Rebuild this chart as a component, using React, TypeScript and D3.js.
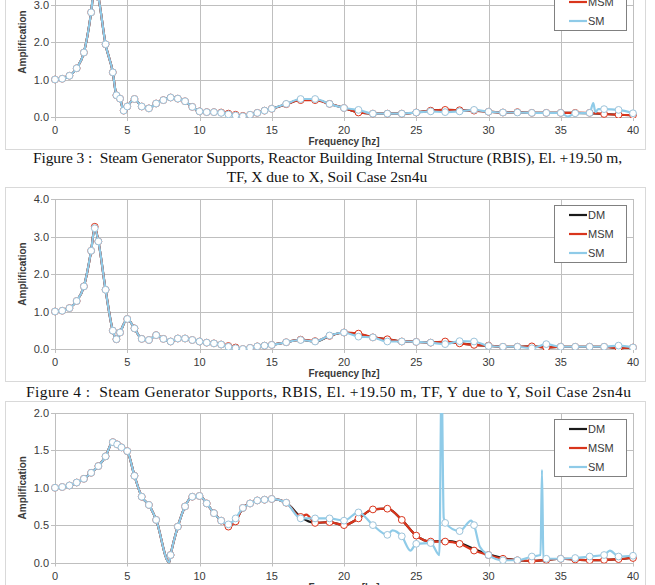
import * as d3 from 'd3';

// Figure 3 panel (X due to X), frequencies in Hz
const p1Freq = [0, 0.5, 1, 1.5, 2, 2.5, 2.75, 3, 3.5, 4, 4.25, 4.5, 4.75, 5, 5.5, 6, 6.5, 7, 7.5, 8, 8.5, 9, 9.5, 10, 10.5, 11, 11.5, 12, 12.5, 13, 13.5, 14, 14.5, 15, 16, 17, 18, 19, 20, 21, 22, 23, 24, 25, 26, 27, 28, 29, 30, 31, 32, 33, 34, 35, 36, 37, 38, 39, 40];
const p1DM = [1.0, 1.02, 1.1, 1.3, 1.72, 2.79, 3.55, 3.2, 1.94, 1.19, 0.58, 0.49, 0.17, 0.28, 0.48, 0.28, 0.23, 0.36, 0.45, 0.52, 0.49, 0.42, 0.27, 0.15, 0.13, 0.13, 0.11, 0.08, 0.05, 0.03, 0.06, 0.11, 0.17, 0.22, 0.34, 0.46, 0.46, 0.35, 0.24, 0.12, 0.09, 0.09, 0.09, 0.12, 0.17, 0.19, 0.18, 0.17, 0.14, 0.12, 0.13, 0.11, 0.11, 0.11, 0.11, 0.1, 0.08, 0.06, 0.05];
const p1MSM = [1.0, 1.02, 1.1, 1.3, 1.72, 2.79, 3.55, 3.2, 1.94, 1.19, 0.58, 0.49, 0.17, 0.28, 0.48, 0.28, 0.23, 0.36, 0.45, 0.52, 0.49, 0.42, 0.27, 0.15, 0.13, 0.13, 0.12, 0.09, 0.06, 0.03, 0.06, 0.11, 0.17, 0.22, 0.34, 0.45, 0.45, 0.35, 0.24, 0.12, 0.09, 0.09, 0.09, 0.12, 0.17, 0.19, 0.18, 0.17, 0.14, 0.12, 0.13, 0.11, 0.11, 0.11, 0.11, 0.11, 0.08, 0.06, 0.05];
const p1SM = [1.0, 1.02, 1.1, 1.3, 1.72, 2.79, 3.55, 3.2, 1.94, 1.19, 0.58, 0.49, 0.17, 0.28, 0.48, 0.28, 0.23, 0.36, 0.45, 0.52, 0.49, 0.42, 0.27, 0.15, 0.13, 0.13, 0.11, 0.07, 0.04, 0.02, 0.06, 0.11, 0.17, 0.22, 0.35, 0.48, 0.48, 0.35, 0.24, 0.19, 0.09, 0.09, 0.09, 0.12, 0.15, 0.13, 0.15, 0.19, 0.14, 0.12, 0.12, 0.11, 0.11, 0.11, 0.1, 0.11, 0.21, 0.19, 0.1];
const p1SmExtra = [[35.5, 0.01], [37.25, 0.37], [37.4, 0.13], [37.6, 0.21]];

// Figure 4 panel (Y due to Y)
const p2Freq = [0, 0.5, 1, 1.5, 2, 2.5, 2.75, 3, 3.5, 4, 4.25, 4.5, 5, 5.5, 6, 6.5, 7, 7.5, 8, 8.5, 9, 9.5, 10, 10.5, 11, 11.5, 12, 12.5, 13, 13.5, 14, 14.5, 15, 16, 17, 18, 19, 20, 21, 22, 23, 24, 25, 26, 27, 28, 29, 30, 31, 32, 33, 34, 35, 36, 37, 38, 39, 40];
const p2DM = [1.0, 1.02, 1.09, 1.28, 1.67, 2.62, 3.24, 2.87, 1.58, 0.49, 0.26, 0.44, 0.8, 0.55, 0.27, 0.24, 0.37, 0.27, 0.2, 0.28, 0.28, 0.24, 0.2, 0.17, 0.15, 0.12, 0.07, 0.03, 0.0, 0.03, 0.07, 0.09, 0.11, 0.18, 0.25, 0.2, 0.35, 0.44, 0.4, 0.31, 0.26, 0.2, 0.19, 0.17, 0.19, 0.15, 0.11, 0.09, 0.06, 0.06, 0.07, 0.04, 0.06, 0.06, 0.06, 0.06, 0.02, 0.04];
const p2MSM = [1.0, 1.02, 1.09, 1.28, 1.67, 2.62, 3.26, 2.87, 1.58, 0.49, 0.26, 0.44, 0.8, 0.55, 0.27, 0.24, 0.37, 0.27, 0.2, 0.28, 0.28, 0.24, 0.2, 0.17, 0.15, 0.12, 0.08, 0.04, 0.0, 0.03, 0.07, 0.09, 0.11, 0.18, 0.25, 0.21, 0.35, 0.44, 0.41, 0.31, 0.26, 0.2, 0.19, 0.17, 0.2, 0.15, 0.11, 0.09, 0.06, 0.06, 0.07, 0.04, 0.06, 0.06, 0.06, 0.06, 0.02, 0.04];
const p2SM = [1.0, 1.02, 1.09, 1.28, 1.67, 2.62, 3.22, 2.87, 1.58, 0.49, 0.26, 0.44, 0.8, 0.55, 0.27, 0.24, 0.37, 0.27, 0.2, 0.28, 0.28, 0.24, 0.2, 0.17, 0.15, 0.12, 0.06, 0.02, 0.0, 0.03, 0.07, 0.09, 0.11, 0.18, 0.24, 0.2, 0.36, 0.44, 0.33, 0.31, 0.2, 0.2, 0.19, 0.17, 0.13, 0.21, 0.2, 0.08, 0.06, 0.06, 0.02, 0.13, 0.06, 0.06, 0.06, 0.06, 0.09, 0.04];

// Figure 5 panel
const p3Freq = [0, 0.5, 1, 1.5, 2, 2.5, 3, 3.5, 4, 4.3, 4.6, 5, 5.5, 6, 6.5, 7, 8, 8.5, 9, 9.5, 10, 10.5, 11, 11.5, 12, 12.5, 13, 13.5, 14, 14.5, 15, 16, 17, 18, 19, 20, 21, 22, 23, 24, 25, 26, 27, 28, 29, 30, 31, 32, 33, 34, 35, 36, 37, 38, 39, 40];
const p3DM = [1.0, 1.01, 1.03, 1.07, 1.12, 1.2, 1.29, 1.42, 1.61, 1.58, 1.54, 1.49, 1.16, 0.88, 0.77, 0.57, 0.1, 0.48, 0.75, 0.88, 0.89, 0.79, 0.66, 0.56, 0.5, 0.56, 0.73, 0.79, 0.83, 0.84, 0.85, 0.8, 0.61, 0.53, 0.54, 0.5, 0.59, 0.71, 0.72, 0.57, 0.36, 0.28, 0.29, 0.26, 0.18, 0.11, 0.06, 0.03, 0.02, 0.035, 0.05, 0.04, 0.03, 0.035, 0.045, 0.06];
const p3MSM = [1.0, 1.01, 1.03, 1.07, 1.12, 1.2, 1.29, 1.42, 1.61, 1.58, 1.54, 1.49, 1.16, 0.88, 0.77, 0.57, 0.1, 0.48, 0.75, 0.88, 0.89, 0.79, 0.66, 0.56, 0.48, 0.55, 0.73, 0.79, 0.83, 0.84, 0.85, 0.8, 0.61, 0.53, 0.54, 0.5, 0.59, 0.71, 0.72, 0.57, 0.36, 0.28, 0.28, 0.25, 0.16, 0.1, 0.05, 0.03, 0.02, 0.035, 0.05, 0.04, 0.03, 0.035, 0.045, 0.06];
const p3SM = [1.0, 1.01, 1.03, 1.07, 1.12, 1.2, 1.29, 1.42, 1.61, 1.58, 1.54, 1.49, 1.16, 0.88, 0.77, 0.57, 0.1, 0.48, 0.75, 0.88, 0.89, 0.79, 0.66, 0.56, 0.51, 0.59, 0.73, 0.79, 0.83, 0.84, 0.85, 0.8, 0.59, 0.59, 0.59, 0.56, 0.67, 0.5, 0.37, 0.35, 0.25, 0.26, 0.53, 0.42, 0.5, 0.1, 0.03, 0.03, 0.08, 0.05, 0.05, 0.06, 0.08, 0.1, 0.08, 0.09];
const p3DmExtra = [[7.9, 0.0]];
const p3MsmExtra = [[7.9, 0.0], [17.4, 0.64]];
const p3SmExtra = [[7.9, 0.0], [23.35, 0.43], [24.6, 0.16], [26.6, 0.1], [26.75, 2.5], [26.9, 0.6], [28.8, 0.56], [29.4, 0.21], [33.6, 0.1], [33.7, 1.24], [33.8, 0.06], [38.4, 0.16]];

const xTicks = [0, 5, 10, 15, 20, 25, 30, 35, 40];
const legendNames = ['DM', 'MSM', 'SM'];
const caption3 = ['Figure 3 :  Steam Generator Supports, Reactor Building Internal Structure (RBIS), El. +19.50 m,', 'TF, X due to X, Soil Case 2sn4u'];
const caption4 = 'Figure 4 :  Steam Generator Supports, RBIS, El. +19.50 m, TF, Y due to Y, Soil Case 2sn4u';

const COLORS = ['#1a1a1a', '#d9351c', '#8fcbe8'];
const MARK_STROKE = ['#555555', '#d9351c', '#9cc3da'];
const GRID = '#bfbfbf';
const TXT = '#3a3a3a';
const SANS = 'Liberation Sans, Arial, sans-serif';
const SERIF = 'Liberation Serif, Times New Roman, serif';

const X0 = 55;
const X1 = 633;

type Pt = [number, number];

interface PanelProps {
  id: string;
  top: number;
  bottom: number;
  yMax: number;
  yTicks: number[];
  frameTop: number;
  legendTop: number;
  freq: number[];
  series: number[][];
  extras: Pt[][];
  markers: boolean[];
}

function Panel({ id, top, bottom, yMax, yTicks, frameTop, legendTop, freq, series, extras, markers }: PanelProps) {
  const x = d3.scaleLinear().domain([0, 40]).range([X0, X1]);
  const y = d3.scaleLinear().domain([0, yMax]).range([bottom, top]);
  const line = d3
    .line<Pt>()
    .x((d) => x(d[0]))
    .y((d) => y(d[1]))
    .curve(d3.curveMonotoneX);

  return (
    <g>
      <defs>
        <clipPath id={`clip-${id}`}>
          <rect x={X0 - 5} y={top} width={X1 - X0 + 10} height={bottom - top + 1} />
        </clipPath>
      </defs>
      <rect x={5.5} y={frameTop + 0.5} width={640} height={194} fill="#fff" stroke="#d9d9d9" />

      {/* grid */}
      {yTicks.map((t) => (
        <line key={`h${t}`} x1={X0 - 4} x2={X1} y1={Math.round(y(t)) + 0.5} y2={Math.round(y(t)) + 0.5} stroke={GRID} />
      ))}
      {xTicks.map((t) => (
        <line key={`v${t}`} x1={Math.round(x(t)) + 0.5} x2={Math.round(x(t)) + 0.5} y1={top} y2={bottom + 4} stroke={GRID} />
      ))}

      {/* tick labels */}
      {yTicks.map((t) => (
        <text key={`yl${t}`} x={X0 - 6} y={y(t) + 4} textAnchor="end" fontSize={11} fill={TXT} fontFamily={SANS}>
          {d3.format('.1f')(t)}
        </text>
      ))}
      {xTicks.map((t) => (
        <text key={`xl${t}`} x={x(t)} y={bottom + 17} textAnchor="middle" fontSize={11} fill={TXT} fontFamily={SANS}>
          {t}
        </text>
      ))}
      <text x={(X0 + X1) / 2} y={bottom + 28} textAnchor="middle" fontSize={10} fontWeight="bold" fill={TXT} fontFamily={SANS}>
        Frequency [hz]
      </text>
      <text
        transform={`translate(26,${(top + bottom) / 2}) rotate(-90)`}
        textAnchor="middle"
        fontSize={10}
        fontWeight="bold"
        fill={TXT}
        fontFamily={SANS}
      >
        Amplification
      </text>

      {/* series */}
      <g clipPath={`url(#clip-${id})`}>
        {series.map((vals, si) => {
          const pts: Pt[] = freq.map((f, i) => [f, vals[i]] as Pt);
          const all = pts.concat(extras[si]).sort((a, b) => a[0] - b[0]);
          return (
            <g key={si}>
              <path d={line(all) || ''} fill="none" stroke={COLORS[si]} strokeWidth={2.2} strokeLinejoin="round" />
              {markers[si] &&
                pts.map((p, i) => (
                  <circle key={i} cx={x(p[0])} cy={y(p[1])} r={3.4} fill="#fff" stroke={MARK_STROKE[si]} strokeWidth={1} />
                ))}
            </g>
          );
        })}
      </g>

      {/* legend */}
      <rect x={554.5} y={legendTop + 0.5} width={72} height={57} fill="#fff" stroke="#808080" />
      {legendNames.map((n, i) => (
        <g key={n}>
          <line x1={569} x2={587} y1={legendTop + 10 + i * 19} y2={legendTop + 10 + i * 19} stroke={COLORS[i]} strokeWidth={2.2} />
          <text x={588} y={legendTop + 14 + i * 19} fontSize={11} fill={TXT} fontFamily={SANS}>
            {n}
          </text>
        </g>
      ))}
    </g>
  );
}

export default function App() {
  return (
    <svg width={655} height={585} style={{ position: 'absolute', left: 0, top: 0, background: '#fff' }}>
      <rect width={655} height={585} fill="#fff" />
      <Panel
        id="p1"
        top={-33}
        bottom={117}
        yMax={4}
        yTicks={[0, 1, 2, 3, 4]}
        frameTop={-45}
        legendTop={-27}
        freq={p1Freq}
        series={[p1DM, p1MSM, p1SM]}
        extras={[[], [], p1SmExtra as Pt[]]}
        markers={[false, true, true]}
      />
      <text x={33} y={163} fontSize={15.5} fill="#111" fontFamily={SERIF} xmlSpace="preserve" textLength={589} lengthAdjust="spacing">
        {caption3[0]}
      </text>
      <text x={327} y={182} textAnchor="middle" fontSize={15.5} fill="#111" fontFamily={SERIF}>
        {caption3[1]}
      </text>
      <Panel
        id="p2"
        top={199}
        bottom={349}
        yMax={4}
        yTicks={[0, 1, 2, 3, 4]}
        frameTop={187}
        legendTop={205}
        freq={p2Freq}
        series={[p2DM, p2MSM, p2SM]}
        extras={[[], [], []]}
        markers={[false, true, true]}
      />
      <text x={26} y={397} fontSize={15.5} fill="#111" fontFamily={SERIF} xmlSpace="preserve" textLength={605} lengthAdjust="spacing">
        {caption4}
      </text>
      <Panel
        id="p3"
        top={413}
        bottom={562.5}
        yMax={2}
        yTicks={[0, 0.5, 1, 1.5, 2]}
        frameTop={401}
        legendTop={419}
        freq={p3Freq}
        series={[p3DM, p3MSM, p3SM]}
        extras={[p3DmExtra as Pt[], p3MsmExtra as Pt[], p3SmExtra as Pt[]]}
        markers={[false, true, true]}
      />
    </svg>
  );
}
